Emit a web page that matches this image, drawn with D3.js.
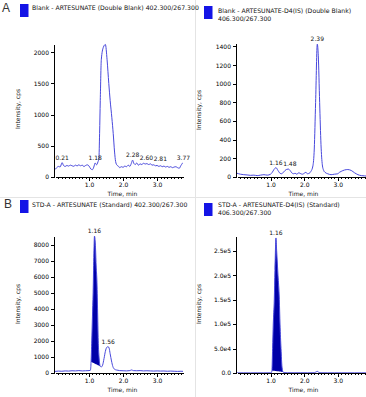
<!DOCTYPE html>
<html>
<head>
	<meta charset="UTF-8">
	<title>Chromatograms</title>
	<style>
		body { margin: 0; background: #fff; }
		svg { display: block; font-family: "DejaVu Sans", Verdana, sans-serif; }
		.trace { fill: none; stroke: #4848dc; stroke-width: 1; }
		.area { fill: #0000a8; stroke: none; }
		.axis path, .axis line { stroke: #000; shape-rendering: crispEdges; }
		.axis text { font-family: "DejaVu Sans", Verdana, sans-serif; font-size: 6px; fill: #000; }
	</style>
</head>
<body>
<script src="https://d3js.org/d3.v7.min.js"></script>
<script>

'use strict';

// ---- data ----
var blankAnaTime = [0, 0.05, 0.1, 0.15, 0.21, 0.25, 0.3, 0.35, 0.4, 0.45, 0.5, 0.55, 0.6, 0.65, 0.7, 0.75, 0.8, 0.85, 0.9, 0.95, 1.0, 1.05, 1.1, 1.14, 1.18, 1.22, 1.26, 1.29, 1.31, 1.33, 1.36, 1.42, 1.48, 1.53, 1.58, 1.62, 1.67, 1.71, 1.75, 1.78, 1.82, 1.86, 1.9, 1.95, 2.0, 2.05, 2.1, 2.15, 2.2, 2.24, 2.28, 2.32, 2.36, 2.4, 2.45, 2.5, 2.55, 2.6, 2.65, 2.7, 2.75, 2.81, 2.85, 2.9, 2.95, 3.0, 3.05, 3.1, 3.15, 3.2, 3.25, 3.3, 3.35, 3.4, 3.45, 3.5, 3.55, 3.6, 3.65, 3.7, 3.77, 3.82];
var blankAnaInt = [120, 150, 170, 160, 230, 185, 170, 185, 175, 190, 180, 172, 190, 178, 195, 180, 190, 168, 185, 195, 175, 130, 118, 160, 225, 195, 240, 300, 700, 1230, 1880, 2080, 2125, 1880, 1500, 1230, 950, 700, 400, 250, 190, 175, 150, 165, 155, 175, 165, 190, 170, 215, 270, 215, 200, 225, 190, 210, 200, 220, 208, 215, 200, 210, 190, 195, 180, 185, 170, 180, 165, 175, 160, 170, 155, 165, 150, 160, 165, 150, 140, 185, 230, 150];
var blankAnaLabels = [0.21, 1.18, 2.28, 2.60, 2.81, 3.77];
var blankAnaTicks = [0, 500, 1000, 1500, 2000];

var blankIsTime = [0, 0.05, 0.1, 0.2, 0.3, 0.4, 0.5, 0.6, 0.7, 0.8, 0.9, 1.0, 1.05, 1.1, 1.16, 1.22, 1.28, 1.33, 1.38, 1.43, 1.48, 1.53, 1.58, 1.63, 1.68, 1.73, 1.78, 1.84, 1.9, 1.95, 2.0, 2.05, 2.1, 2.15, 2.2, 2.26, 2.3, 2.34, 2.39, 2.42, 2.46, 2.5, 2.54, 2.58, 2.62, 2.7, 2.8, 2.9, 3.0, 3.05, 3.1, 3.2, 3.3, 3.4, 3.5, 3.6, 3.7, 3.8, 3.85];
var blankIsInt = [40, 35, 30, 25, 22, 18, 20, 15, 20, 25, 20, 30, 50, 80, 100, 70, 40, 35, 50, 70, 82, 85, 70, 45, 35, 40, 30, 45, 35, 30, 40, 50, 35, 40, 60, 120, 300, 800, 1425, 1300, 800, 350, 130, 70, 50, 35, 25, 30, 35, 50, 60, 75, 80, 70, 45, 25, 15, 12, 10];
var blankIsLabels = [1.16, 1.48, 2.39];
var blankIsTicks = [0, 200, 400, 600, 800, 1000, 1200, 1400];

var stdAnaTime = [0, 0.1, 0.2, 0.3, 0.4, 0.5, 0.6, 0.7, 0.8, 0.9, 1.0, 1.04, 1.06, 1.08, 1.1, 1.12, 1.14, 1.16, 1.19, 1.21, 1.23, 1.25, 1.27, 1.29, 1.31, 1.33, 1.36, 1.4, 1.44, 1.48, 1.52, 1.56, 1.59, 1.62, 1.66, 1.7, 1.74, 1.78, 1.85, 1.9, 2.0, 2.1, 2.2, 2.25, 2.3, 2.4, 2.5, 2.6, 2.7, 2.8, 2.9, 3.0, 3.1, 3.2, 3.3, 3.4, 3.5, 3.6, 3.7, 3.8, 3.85];
var stdAnaInt = [100, 120, 110, 130, 120, 140, 130, 150, 130, 140, 150, 170, 700, 2000, 3500, 5000, 7200, 8530, 7800, 6600, 5800, 4000, 2000, 1100, 600, 420, 380, 500, 900, 1350, 1600, 1640, 1550, 1200, 750, 400, 250, 200, 170, 150, 140, 130, 150, 190, 150, 140, 150, 130, 140, 130, 120, 130, 120, 125, 110, 120, 110, 100, 110, 100, 95];
var stdAnaLabels = [1.16, 1.56];
var stdAnaArea = [1.05, 1.33];
var stdAnaTicks = [0, 1000, 2000, 3000, 4000, 5000, 6000, 7000, 8000];

var stdIsTime = [0, 0.2, 0.4, 0.6, 0.8, 1.0, 1.02, 1.04, 1.06, 1.08, 1.11, 1.13, 1.16, 1.18, 1.22, 1.26, 1.28, 1.31, 1.34, 1.37, 1.4, 1.5, 1.7, 1.9, 2.1, 2.3, 2.36, 2.4, 2.44, 2.5, 2.7, 2.9, 3.1, 3.3, 3.5, 3.7, 3.85];
var stdIsInt = [200, 300, 200, 300, 250, 400, 500, 5000, 50000, 100000, 150000, 210000, 276000, 250000, 200000, 150000, 100000, 50000, 12000, 2000, 800, 500, 400, 450, 400, 500, 2500, 3200, 800, 400, 350, 300, 350, 300, 300, 280, 300];
var stdIsLabels = [1.16];
var stdIsArea = [1.03, 1.37];
var stdIsTicks = [0, 50000, 100000, 150000, 200000, 250000];

var titles = [
	["Blank - ARTESUNATE (Double Blank) 402.300/267.300"],
	["Blank - ARTESUNATE-D4(IS) (Double Blank)", "406.300/267.300"],
	["STD-A - ARTESUNATE (Standard) 402.300/267.300"],
	["STD-A - ARTESUNATE-D4(IS) (Standard)", "406.300/267.300"]
];

// ---- panel layout ----
var W = 366, H = 397;
var panels = [
	{letter: "A", x0: 55, x1: 183, bottom: 177, top: 44, tMax: 3.76, vMax: 2133, time: blankAnaTime, val: blankAnaInt, labels: blankAnaLabels, ticks: blankAnaTicks, area: null, title: titles[0], sqX: 20, sqY: 4, txtX: 32, txtY: 10, ylabX: 20, ylabY: 109, oy: 0},
	{letter: null, x0: 237, x1: 366, bottom: 177, top: 43.5, tMax: 3.84, vMax: 1432, time: blankIsTime, val: blankIsInt, labels: blankIsLabels, ticks: blankIsTicks, area: null, title: titles[1], sqX: 204, sqY: 6, txtX: 218, txtY: 13, ylabX: 201, ylabY: 110, oy: 0},
	{letter: "B", x0: 55, x1: 183, bottom: 373, top: 236, tMax: 3.76, vMax: 8540, time: stdAnaTime, val: stdAnaInt, labels: stdAnaLabels, ticks: stdAnaTicks, area: stdAnaArea, title: titles[2], sqX: 20, sqY: 200, txtX: 32, txtY: 207, ylabX: 20, ylabY: 304, oy: 196},
	{letter: null, x0: 237, x1: 366, bottom: 373, top: 236, tMax: 3.84, vMax: 280000, time: stdIsTime, val: stdIsInt, labels: stdIsLabels, ticks: stdIsTicks, area: stdIsArea, title: titles[3], sqX: 204, sqY: 203, txtX: 218, txtY: 207, ylabX: 201, ylabY: 304, oy: 196}
];

var svg = d3.select("body").append("svg")
	.attr("width", W)
	.attr("height", H);

// faint separators
svg.append("line").attr("x1", 195.5).attr("x2", 195.5).attr("y1", 0).attr("y2", H)
	.attr("stroke", "#e4e4e4");
svg.append("line").attr("x1", 0).attr("x2", W).attr("y1", 197.5).attr("y2", 197.5)
	.attr("stroke", "#e4e4e4");

var sciFmt = function(d){ return d === 0 ? "0.0" : d3.format(".1e")(d).replace("e+", "e"); };

panels.forEach(function(p, i){
	var g = svg.append("g");
	var x = d3.scaleLinear().domain([0, p.tMax]).range([p.x0, p.x1]);
	var y = d3.scaleLinear().domain([0, p.vMax]).range([p.bottom, p.top]);
	var pts = p.time.map(function(t, k){ return [t, p.val[k]]; });

	// header
	if (p.letter) {
		g.append("text").attr("x", p.letter === "A" ? 2 : 4).attr("y", p.oy + 12)
			.attr("font-family", "Liberation Sans, Arial, sans-serif")
			.attr("font-size", "12px").attr("fill", "#333").text(p.letter);
	}
	g.append("rect").attr("x", p.sqX).attr("y", p.sqY).attr("width", 8.5).attr("height", 13)
		.attr("fill", "#1414e6");
	p.title.forEach(function(s, k){
		g.append("text").attr("x", p.txtX).attr("y", p.txtY + k * 7.5)
			.attr("font-size", "6.2px").attr("fill", "#111").text(s);
	});

	// clip
	var cid = "clip" + i;
	g.append("clipPath").attr("id", cid).append("rect")
		.attr("x", p.x0).attr("y", p.top - 12).attr("width", p.x1 - p.x0).attr("height", p.bottom - p.top + 12);
	var plot = g.append("g").attr("clip-path", "url(#" + cid + ")");

	// integrated peak fill
	if (p.area) {
		var a0 = p.area[0], a1 = p.area[1];
		var inside = pts.filter(function(d){ return d[0] >= a0 && d[0] <= a1; });
		var v0 = inside[0][1], v1 = inside[inside.length - 1][1];
		var base = function(t){ return v0 + (v1 - v0) * (t - inside[0][0]) / (inside[inside.length - 1][0] - inside[0][0]); };
		plot.append("path").attr("class", "area")
			.attr("d", d3.area()
				.x(function(d){ return x(d[0]); })
				.y0(function(d){ return y(base(d[0])); })
				.y1(function(d){ return y(d[1]); })
				.curve(d3.curveMonotoneX)(inside));
	}

	plot.append("path").attr("class", "trace")
		.attr("d", d3.line()
			.x(function(d){ return x(d[0]); })
			.y(function(d){ return y(d[1]); })
			.curve(d3.curveMonotoneX)(pts));

	// axes
	var fmt = p.vMax > 100000 ? sciFmt : d3.format("d");
	g.append("g").attr("class", "axis")
		.attr("transform", "translate(" + (p.x0 - 1) + ",0)")
		.call(d3.axisLeft(y).tickValues(p.ticks).tickFormat(fmt).tickSize(3).tickSizeOuter(0).tickPadding(2));

	var minor = d3.range(1, Math.floor(p.tMax * 10) + 1).map(function(k){ return k / 10; })
		.filter(function(t){ return Math.abs(t - Math.round(t)) > 1e-6; });
	g.append("g").attr("class", "axis")
		.attr("transform", "translate(0," + p.bottom + ")")
		.call(d3.axisBottom(x).tickValues(minor).tickFormat("").tickSize(2).tickSizeOuter(0));
	g.append("g").attr("class", "axis")
		.attr("transform", "translate(0," + p.bottom + ")")
		.call(d3.axisBottom(x).tickValues([1, 2, 3]).tickFormat(d3.format(".1f")).tickSize(4).tickSizeOuter(0).tickPadding(2));

	// axis titles
	g.append("text").attr("transform", "translate(" + p.ylabX + "," + p.ylabY + ") rotate(-90)")
		.attr("text-anchor", "middle").attr("font-size", "6px").attr("fill", "#111")
		.text("Intensity, cps");
	g.append("text").attr("x", x(1.98)).attr("y", p.bottom + 18.5)
		.attr("text-anchor", "middle").attr("font-size", "6px").attr("fill", "#111")
		.text("Time, min");

	// peak labels, pushed right when they collide
	var lastRight = -Infinity, lastY = -Infinity;
	p.labels.forEach(function(t){
		var near = pts.filter(function(d){ return Math.abs(d[0] - t) <= 0.04; });
		var v = d3.max(near, function(d){ return d[1]; });
		var lbl = g.append("text").attr("font-size", "6px").attr("fill", "#111")
			.attr("text-anchor", "middle")
			.text(d3.format(".2f")(t));
		var w = lbl.node().getComputedTextLength();
		var cx = x(t), cy = y(v) - 3;
		if (Math.abs(cy - lastY) < 7 && cx - w / 2 < lastRight + 0.5) cx = lastRight + 0.5 + w / 2;
		lbl.attr("x", cx).attr("y", cy);
		lastRight = cx + w / 2; lastY = cy;
	});
});

</script>
</body>
</html>
